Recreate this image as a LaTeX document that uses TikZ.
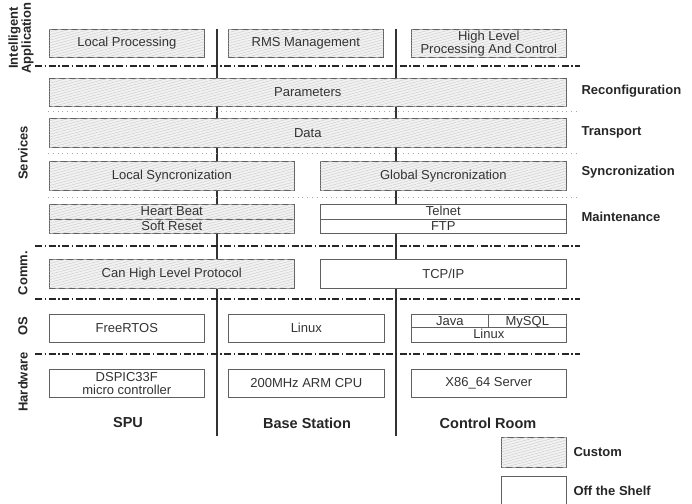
\documentclass[tikz,border=0pt]{standalone}
\usepackage{fontspec}
\setmainfont{Liberation Sans}
\usetikzlibrary{patterns.meta}
\usetikzlibrary{shadows}
\tikzset{box/.style={draw=gray!75!black, line width=0.6pt, anchor=north west, inner sep=0pt, align=center,
    text=black!80, font=\fontsize{13}{13}\selectfont,
    general shadow={fill=gray!55!black, shadow xshift=1.1pt, shadow yshift=-1.1pt}}}
\tikzset{custom/.style={box, fill=gray!10, postaction={pattern={Lines[angle=15, distance=2.6pt, line width=0.45pt]}, pattern color=gray!40}}}
\tikzset{shelf/.style={box, fill=white}}
\tikzset{layer/.style={font=\fontsize{13}{12}\selectfont\bfseries, text=black!85, rotate=90, align=center}}
\tikzset{side/.style={font=\fontsize{13}{13}\selectfont\bfseries, text=black!85, anchor=west}}
\tikzset{column/.style={font=\fontsize{14.5}{15}\selectfont\bfseries, text=black!85}}
\tikzset{sep/.style={line width=1.3pt, black!85, dash pattern=on 7pt off 2.5pt on 1.5pt off 2.5pt}}
\tikzset{dots/.style={line width=0.7pt, gray!70, dash pattern=on 0.8pt off 4pt}}

\begin{document}
\begin{tikzpicture}[x=1pt,y=-1pt]
\useasboundingbox (0,0) rectangle (692,503);
% column dividers
\coordinate (c1top) at (217,29);
\coordinate (c1bot) at (217,436);
\coordinate (c2top) at (396,29);
\coordinate (c2bot) at (396,436);
\draw[line width=1.1pt, black!80] (c1top) -- (c1bot);
\draw[line width=1.1pt, black!80] (c2top) -- (c2bot);
% layer separators
\foreach \y [count=\i] in {66,246,299,354} {
  \coordinate (sepw\i) at (35,\y);
  \coordinate (sepe\i) at (580,\y);
  \draw[sep] (sepw\i) -- (sepe\i);
}
\foreach \y [count=\i] in {111,153,197} {
  \coordinate (dotw\i) at (48,\y);
  \coordinate (dote\i) at (577,\y);
  \draw[dots] (dotw\i) -- (dote\i);
}
% intelligent application
\node[custom, minimum width=155, minimum height=28] (lp) at (49,29) {Local Processing};
\node[custom, minimum width=155, minimum height=28] (rms) at (228,29) {RMS Management};
\node[custom, minimum width=155, minimum height=28] (hlp) at (411,29) {High Level\\Processing And Control};
% services
\node[custom, minimum width=517, minimum height=28] (param) at (49,78) {Parameters};
\node[custom, minimum width=517, minimum height=29] (data) at (49,118) {Data};
\node[custom, minimum width=245, minimum height=29] (lsync) at (49,161) {Local Syncronization};
\node[custom, minimum width=246, minimum height=29] (gsync) at (320,161) {Global Syncronization};
\node[custom, minimum width=245, minimum height=14.5, text height=9pt, text depth=1pt] (hb) at (49,204) {Heart Beat};
\node[custom, minimum width=245, minimum height=14.5, text height=9pt, text depth=1pt] (sr) at (49,218.5) {Soft Reset};
\node[shelf, minimum width=246, minimum height=14.5, text height=9pt, text depth=1pt] (telnet) at (320,204) {Telnet};
\node[shelf, minimum width=246, minimum height=14.5, text height=9pt, text depth=1pt] (ftp) at (320,218.5) {FTP};
% communication
\node[custom, minimum width=245, minimum height=29] (canp) at (49,259) {Can High Level Protocol};
\node[shelf, minimum width=246, minimum height=29] (tcp) at (320,259) {TCP/IP};
% operating systems
\node[shelf, minimum width=155, minimum height=28] (freertos) at (49,314) {FreeRTOS};
\node[shelf, minimum width=156, minimum height=28] (linuxb) at (228,314) {Linux};
\node[shelf, minimum width=77, minimum height=13, text height=10pt, text depth=0pt] (java) at (411,314) {Java};
\node[shelf, minimum width=78, minimum height=13, text height=10pt, text depth=0pt] (mysql) at (488,314) {MySQL};
\node[shelf, minimum width=155, minimum height=15, text height=9pt, text depth=2pt] (linuxc) at (411,327) {Linux};
% hardware
\node[shelf, minimum width=155, minimum height=28] (dspic) at (49,369) {DSPIC33F\\micro controller};
\node[shelf, minimum width=156, minimum height=28] (arm) at (228,369) {200MHz ARM CPU};
\node[shelf, minimum width=155, minimum height=28] (x86) at (411,369) {X86\_64 Server};
% labels
\node[layer] (lapp) at (21,38) {Intelligent\\Application};
\node[layer] (lserv) at (23,153) {Services};
\node[layer] (lcomm) at (23,273) {Comm.};
\node[layer] (los) at (23,326) {OS};
\node[layer] (lhw) at (23,382) {Hardware};
\node[side] (reconf) at (578,91) {Reconfiguration};
\node[side] (transp) at (578,132) {Transport};
\node[side] (syncr) at (578,172) {Syncronization};
\node[side] (maint) at (578,217) {Maintenance};
\node[column] (spu) at (128,423) {SPU};
\node[column] (bs) at (307,423) {Base Station};
\node[column] (cr) at (488,423) {Control Room};
% legend
\node[custom, minimum width=65, minimum height=30] (legc) at (501,437) {};
\node[shelf, minimum width=65, minimum height=30] (legs) at (501,476) {};
\node[side] (custom) at (570,452) {Custom};
\node[side] (offshelf) at (570,491) {Off the Shelf};
\end{tikzpicture}
\end{document}
